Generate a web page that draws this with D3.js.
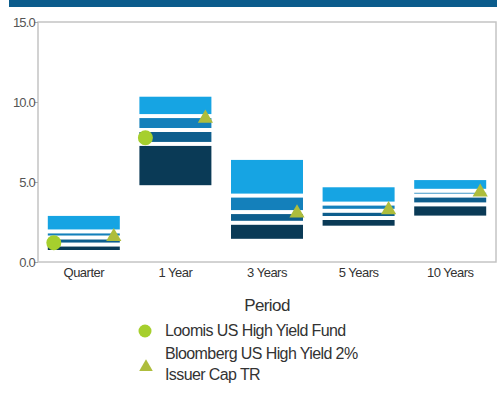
<!DOCTYPE html>
<html>
<head>
<meta charset="utf-8">
<script src="https://cdn.jsdelivr.net/npm/d3@7"></script>
<style>
  body { margin: 0; background: #fff; }
  svg { display: block; font-family: "Liberation Sans", Arial, sans-serif; }
</style>
</head>
<body>
<div class="chart"></div>
<script>
const categories = ["Quarter", "1 Year", "3 Years", "5 Years", "10 Years"];
// percentile band edges (5th, 25th, median, 75th, 95th)
const p5 = [2.88, 10.33, 6.38, 4.67, 5.12];
const p25 = [1.91, 9.12, 4.15, 3.65, 4.45];
const p50 = [1.53, 8.25, 3.12, 3.2, 4.15];
const p75 = [1.09, 7.38, 2.45, 2.75, 3.6];
const p95 = [0.75, 4.8, 1.45, 2.27, 2.9];
const fund = [1.2, 7.77, null, null, null];
const index = [1.52, 8.92, 3.0, 3.2, 4.3];
const yTicks = [0, 5, 10, 15];
const bandColors = ["#16a4e3", "#1480bb", "#0e5e8d", "#0a3a56"];

const width = 498, height = 393;
const margin = { top: 22, right: 2, bottom: 131, left: 38 };

const svg = d3.select(".chart").append("svg")
  .attr("width", width)
  .attr("height", height);

// header strip
svg.append("rect")
  .attr("x", 9).attr("y", 0)
  .attr("width", 488).attr("height", 7)
  .attr("fill", "#0b5c8c");

const x = d3.scaleBand()
  .domain(categories)
  .range([margin.left, width - margin.right])
  .paddingInner(0.214)
  .paddingOuter(0.107);

const y = d3.scaleLinear()
  .domain([0, 15])
  .range([height - margin.bottom, margin.top]);

// frame
svg.append("rect")
  .attr("x", margin.left).attr("y", margin.top)
  .attr("width", width - margin.right - margin.left)
  .attr("height", y(0) - margin.top)
  .attr("fill", "none")
  .attr("stroke", "#c4c4c4")
  .attr("stroke-width", 1.5);

const yAxis = svg.append("g")
  .attr("transform", `translate(${margin.left},0)`)
  .call(d3.axisLeft(y).tickValues(yTicks).tickFormat(d3.format(".1f")).tickSize(4));
yAxis.select(".domain").remove();
yAxis.selectAll("line").attr("stroke", "#aaa");
yAxis.selectAll("text")
  .attr("fill", "#555")
  .attr("font-size", 13)
  .attr("letter-spacing", -0.8)
  .attr("x", -3);

const xAxis = svg.append("g")
  .attr("transform", `translate(0,${y(0)})`)
  .call(d3.axisBottom(x).tickSize(0).tickPadding(6));
xAxis.select(".domain").remove();
xAxis.selectAll("text")
  .attr("fill", "#333")
  .attr("font-size", 13)
  .attr("letter-spacing", -0.5);

// percentile bands
const gap = 2;
const rows = categories.map((c, i) => ({ cat: c, edges: [p5[i], p25[i], p50[i], p75[i], p95[i]] }));
rows.forEach(r => {
  for (let k = 0; k < 4; k++) {
    const top = y(r.edges[k]) + (k > 0 ? gap : 0);
    const bot = y(r.edges[k + 1]) - (k < 3 ? gap : 0);
    svg.append("rect")
      .attr("x", x(r.cat))
      .attr("y", top)
      .attr("width", x.bandwidth())
      .attr("height", Math.max(0, bot - top))
      .attr("fill", bandColors[k]);
  }
});

// fund markers
svg.selectAll(".fund")
  .data(categories.map((c, i) => ({ cat: c, v: fund[i] })).filter(d => d.v != null))
  .enter().append("circle")
  .attr("class", "fund")
  .attr("cx", d => x(d.cat) + 6)
  .attr("cy", d => y(d.v))
  .attr("r", 7.5)
  .attr("fill", "#a6cf2d");

const tri = d3.symbol().type(d3.symbolTriangle).size(100);
svg.selectAll(".idx")
  .data(categories.map((c, i) => ({ cat: c, v: index[i] })))
  .enter().append("path")
  .attr("class", "idx")
  .attr("transform", d => `translate(${x(d.cat) + x.bandwidth() - 6},${y(d.v) - 1})`)
  .attr("d", tri)
  .attr("fill", "#aebd3c");

// legend
svg.append("text")
  .attr("x", 267).attr("y", 311)
  .attr("text-anchor", "middle")
  .attr("font-size", 17)
  .attr("letter-spacing", -0.6)
  .attr("fill", "#333")
  .text("Period");

const legend = svg.append("g").attr("font-size", 16).attr("fill", "#333").attr("letter-spacing", -0.6);
legend.append("circle").attr("cx", 145).attr("cy", 331).attr("r", 6.5).attr("fill", "#a6cf2d");
legend.append("text").attr("x", 165).attr("y", 336).text("Loomis US High Yield Fund");
legend.append("path")
  .attr("transform", "translate(146,367)")
  .attr("d", d3.symbol().type(d3.symbolTriangle).size(80))
  .attr("fill", "#aebd3c");
legend.append("text").attr("x", 165).attr("y", 359).text("Bloomberg US High Yield 2%");
legend.append("text").attr("x", 165).attr("y", 380).text("Issuer Cap TR");
</script>
</body>
</html>
